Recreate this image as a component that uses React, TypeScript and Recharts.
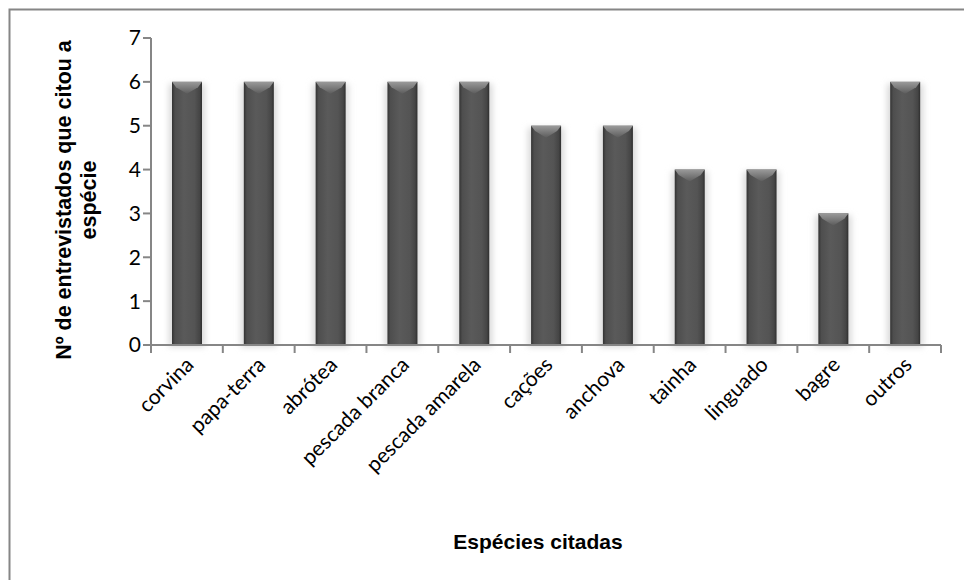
import React from 'react';
import { BarChart, Bar, XAxis, YAxis, Label } from 'recharts';

const especies = [
	'corvina',
	'papa-terra',
	'abrótea',
	'pescada branca',
	'pescada amarela',
	'cações',
	'anchova',
	'tainha',
	'linguado',
	'bagre',
	'outros',
];
const entrevistados = [6, 6, 6, 6, 6, 5, 5, 4, 4, 3, 6];
const yTicks = [0, 1, 2, 3, 4, 5, 6, 7];

const data = especies.map((nome, i) => ({ nome, valor: entrevistados[i] }));

const axisGray = '#868686';
const tickFont = 'Lato, "Open Sans", sans-serif';
const titleFont = '"Liberation Sans", Arial, sans-serif';

// bar with dark edges, light center and a bevelled top
const BevelBar = (props: any) => {
	const { x, y, width, height } = props;
	if (!height || height <= 0) return null;
	const b = Math.min(12, height / 2);
	return (
		<g>
			<rect x={x - 3} y={y + 2} width={width + 6} height={height} fill="#d8d8d8" filter="url(#barGlow)" />
			<rect x={x} y={y} width={width} height={height} fill="url(#barBody)" />
			<polygon
				points={`${x},${y} ${x + width},${y} ${x + width - 4},${y + b * 0.45} ${x + width / 2},${y + b} ${x + 4},${y + b * 0.45}`}
				fill="url(#barTop)"
			/>
		</g>
	);
};

// rotated label plus the tick marks on the category boundaries
const XTick = (props: any) => {
	const { x, y, payload, index, width, visibleTicksCount } = props;
	const half = payload.offset || width / visibleTicksCount / 2;
	const isLast = index === visibleTicksCount - 1;
	return (
		<g>
			<line x1={x - half} y1={y} x2={x - half} y2={y + 8} stroke={axisGray} strokeWidth={2} />
			{isLast && <line x1={x + half} y1={y} x2={x + half} y2={y + 8} stroke={axisGray} strokeWidth={2} />}
			<text
				x={x + 8}
				y={y + 21}
				textAnchor="end"
				transform={`rotate(-45 ${x + 8} ${y + 21})`}
				fontFamily={tickFont}
				fontSize={21}
				fill="#000"
			>
				{payload.value}
			</text>
		</g>
	);
};

const YTitle = () => (
	<g fontFamily={titleFont} fontSize={21.5} fontWeight="bold" fill="#000">
		<text x={64} y={200} textAnchor="middle" dominantBaseline="central" transform="rotate(-90 64 200)">
			Nº de entrevistados que citou a
		</text>
		<text x={89} y={200} textAnchor="middle" dominantBaseline="central" transform="rotate(-90 89 200)">
			espécie
		</text>
	</g>
);

const XTitle = () => (
	<text x={538} y={549} textAnchor="middle" fontFamily={titleFont} fontSize={21} fontWeight="bold" fill="#000">
		Espécies citadas
	</text>
);

export default function App() {
	return (
		<div style={{ position: 'absolute', left: 0, top: 0, width: 964, height: 580, background: '#fff' }}>
			<svg width={964} height={580} style={{ position: 'absolute', left: 0, top: 0 }}>
				<path d="M9.5 580 L9.5 9.5 L964 9.5" stroke={axisGray} strokeWidth={2} fill="none" />
			</svg>
			<div style={{ position: 'absolute', left: 0, top: 0 }}>
				<BarChart
					width={964}
					height={580}
					data={data}
					margin={{ top: 38, right: 23, left: 0, bottom: 0 }}
					barSize={30}
				>
					<defs>
						<linearGradient id="barBody" x1="0" y1="0" x2="1" y2="0">
							<stop offset="0" stopColor="#333" />
							<stop offset="0.1" stopColor="#4e4e4e" />
							<stop offset="0.4" stopColor="#5a5a5a" />
							<stop offset="0.75" stopColor="#545454" />
							<stop offset="0.92" stopColor="#454545" />
							<stop offset="1" stopColor="#2e2e2e" />
						</linearGradient>
						<linearGradient id="barTop" x1="0" y1="0" x2="0" y2="1">
							<stop offset="0" stopColor="#9a9a9a" />
							<stop offset="1" stopColor="#5c5c5c" />
						</linearGradient>
						<filter id="barGlow" x="-50%" y="-10%" width="200%" height="130%">
							<feGaussianBlur stdDeviation="3" />
						</filter>
					</defs>
					<XAxis
						dataKey="nome"
						height={235}
						interval={0}
						axisLine={{ stroke: axisGray, strokeWidth: 2 }}
						tickLine={false}
						tickSize={0}
						tickMargin={0}
						tick={<XTick />}
					>
						<Label content={<XTitle />} />
					</XAxis>
					<YAxis
						width={151}
						domain={[0, 7]}
						ticks={yTicks}
						interval={0}
						axisLine={{ stroke: axisGray, strokeWidth: 2 }}
						tickLine={{ stroke: axisGray, strokeWidth: 2 }}
						tickSize={8}
						tick={{ fontFamily: tickFont, fontSize: 21, fill: '#000' }}
					>
						<Label content={<YTitle />} />
					</YAxis>
					<Bar dataKey="valor" shape={<BevelBar />} isAnimationActive={false} />
				</BarChart>
			</div>
		</div>
	);
}
